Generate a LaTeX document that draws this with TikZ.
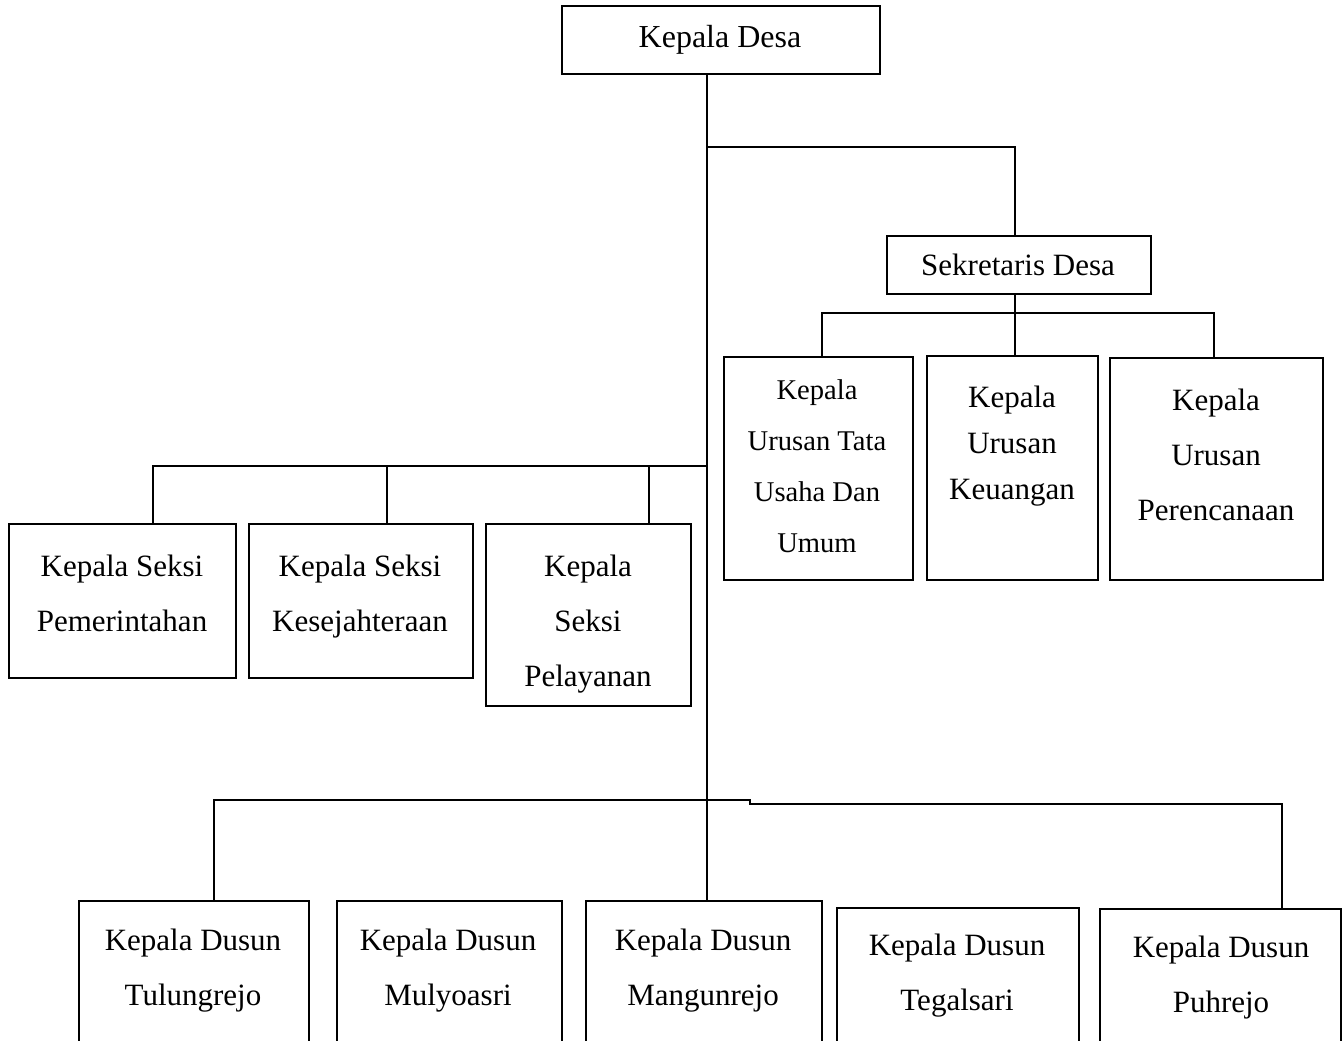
\documentclass[tikz,border=0pt]{standalone}
\usepackage{fontspec}
\setmainfont{Liberation Serif}
\begin{document}
\begin{tikzpicture}[x=0.5pt,y=-0.5pt,
  box/.style={draw, line width=1pt, inner sep=0pt, anchor=north west},
  lbl/.style={align=center, inner sep=0pt, text depth=0pt, font=\fontsize{15.5}{27.5}\selectfont},
  link/.style={line width=1pt}]
\path[use as bounding box, clip] (0,0) rectangle (1342,1040);
\fill[white] (0,0) rectangle (1342,1040);

% boxes
\node[box, minimum width=159pt, minimum height=34pt] (kd) at (561,5) {};
\node[box, minimum width=132pt, minimum height=29pt] (sd) at (886,235) {};
\node[box, minimum width=94.5pt, minimum height=111.5pt] (ut) at (723,356) {};
\node[box, minimum width=85.5pt, minimum height=112pt] (uk) at (926,355) {};
\node[box, minimum width=106.5pt, minimum height=111pt] (up) at (1109,357) {};
\node[box, minimum width=113.5pt, minimum height=77pt] (sp) at (8,523) {};
\node[box, minimum width=112pt, minimum height=77pt] (sk) at (248,523) {};
\node[box, minimum width=102.5pt, minimum height=91pt] (sl) at (485,523) {};
\node[box, minimum width=115pt, minimum height=80pt] (d1) at (78,900) {};
\node[box, minimum width=112.5pt, minimum height=80pt] (d2) at (336,900) {};
\node[box, minimum width=118pt, minimum height=80pt] (d3) at (585,900) {};
\node[box, minimum width=121pt, minimum height=80pt] (d4) at (836,907) {};
\node[box, minimum width=120.5pt, minimum height=80pt] (d5) at (1099,908) {};

% labels
\node[lbl, font=\fontsize{16}{27.5}\selectfont] (kdt) at (720,36) {Kepala Desa};
\node[lbl] (sdt) at (1018,265) {Sekretaris Desa};
\node[lbl, font=\fontsize{14.3}{25.5}\selectfont] (utt) at (817,466) {Kepala\\Urusan Tata\\Usaha Dan\\Umum};
\node[lbl, font=\fontsize{15.5}{23}\selectfont] (ukt) at (1012,443) {Kepala\\Urusan\\Keuangan};
\node[lbl] (upt) at (1216,454.5) {Kepala\\Urusan\\Perencanaan};
\node[lbl] (spt) at (122,593.5) {Kepala Seksi\\Pemerintahan};
\node[lbl] (skt) at (360,593.5) {Kepala Seksi\\Kesejahteraan};
\node[lbl] (slt) at (588,621) {Kepala\\Seksi\\Pelayanan};
\node[lbl] (d1t) at (193,967.5) {Kepala Dusun\\Tulungrejo};
\node[lbl] (d2t) at (448,967.5) {Kepala Dusun\\Mulyoasri};
\node[lbl] (d3t) at (703,967.5) {Kepala Dusun\\Mangunrejo};
\node[lbl] (d4t) at (957,972.5) {Kepala Dusun\\Tegalsari};
\node[lbl] (d5t) at (1221,974.5) {Kepala Dusun\\Puhrejo};

% junction points
\coordinate (jx) at (707,0);
\coordinate (js) at (707,147);
\coordinate (sj) at (1015,147);
\coordinate (ua) at (822,313);
\coordinate (ub) at (1214,313);
\coordinate (sa) at (153,466);
\coordinate (sb) at (387,466);
\coordinate (sc) at (649,466);
\coordinate (da) at (214,800);
\coordinate (dm) at (750,800);
\coordinate (dn) at (750,804);
\coordinate (db) at (1282,804);

% connectors
\draw[link] (jx |- kd.south) -- (jx |- d3.north);
\draw[link] (js) -- (sj) -- (sj |- sd.north);
\draw[link] (sj |- sd.south) -- (sj |- uk.north);
\draw[link] (ua |- ut.north) -- (ua) -- (ub) -- (ub |- up.north);
\draw[link] (jx |- sa) -- (sa) -- (sa |- sp.north);
\draw[link] (sb) -- (sb |- sk.north);
\draw[link] (sc) -- (sc |- sl.north);
\draw[link] (da |- d1.north) -- (da) -- (dm) -- (dn) -- (db) -- (db |- d5.north);
\end{tikzpicture}
\end{document}
